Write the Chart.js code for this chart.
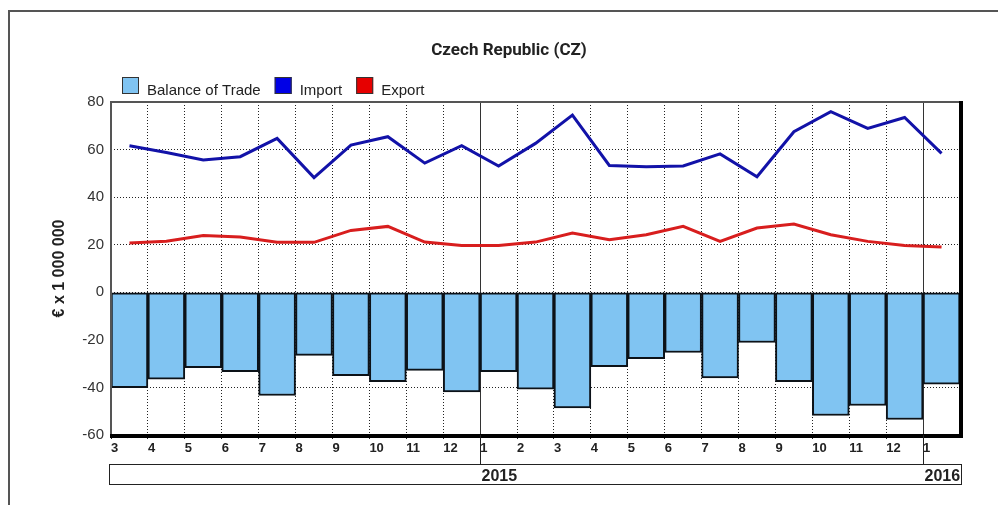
<!DOCTYPE html>
<html>
<head>
<meta charset="utf-8">
<script src="https://cdn.jsdelivr.net/npm/chart.js@4.4.0/dist/chart.umd.min.js"></script>
<style>
  html, body { margin: 0; padding: 0; background: #fff; }
</style>
</head>
<body>
<canvas id="myChart" width="998" height="505"></canvas>
<script>
// months Mar 2014 .. Jan 2016, one slot each on the x axis
var monthLabels = ['3', '4', '5', '6', '7', '8', '9', '10', '11', '12',
                   '1', '2', '3', '4', '5', '6', '7', '8', '9', '10', '11', '12',
                   '1'];
var yearLabels = ['2015', '2016'];
var yearStarts = [10, 22];

// EUR millions
var balance = [-40.1, -36.5, -31.7, -33.4, -43.4, -26.5, -35.1, -37.6, -32.8, -41.9,
               -33.4, -40.7, -48.6, -31.3, -27.9, -25.3, -36.0, -21.1, -37.6, -51.8, -47.6, -53.5,
               -38.6];
var imports = [61.6, 58.8, 55.6, 57.0, 64.7, 48.2, 61.9, 65.4, 54.3, 61.6,
               53.1, 62.6, 74.5, 53.3, 52.8, 53.1, 58.2, 48.6, 67.5, 75.9, 68.9, 73.5,
               58.4];
var exports = [20.7, 21.5, 23.9, 23.2, 21.0, 21.0, 26.0, 27.7, 21.1, 19.7,
               19.7, 21.1, 24.9, 22.1, 24.2, 27.7, 21.4, 27.0, 28.7, 24.2, 21.4, 19.7,
               19.0];

var yTicks = [-60, -40, -20, 0, 20, 40, 60, 80];

var chartTitle = 'Czech Republic (CZ)';
var legendItems = [
  { text: 'Balance of Trade', color: '#80c4f2' },
  { text: 'Import', color: '#0000e6' },
  { text: 'Export', color: '#e60000' }
];

// each month sits in the middle of its slot
function points(values) {
  return values.map(function(v, i) { return { x: i + 0.5, y: v }; });
}

var decorations = {
  id: 'decorations',
  afterDraw: function(chart) {
    var c = chart.ctx, a = chart.chartArea, xs = chart.scales.x;
    c.save();

    // outer frame
    c.strokeStyle = '#555';
    c.lineWidth = 2;
    c.beginPath();
    c.moveTo(9, 505); c.lineTo(9, 11); c.lineTo(998, 11);
    c.stroke();

    // title
    c.fillStyle = '#222';
    c.font = 'bold 17px Roboto';
    c.textAlign = 'center';
    c.textBaseline = 'alphabetic';
    c.fillText(chartTitle, 509, 55);

    // legend
    c.font = '15px "Liberation Sans"';
    c.textAlign = 'left';
    var lx = 122;
    legendItems.forEach(function(it) {
      c.fillStyle = it.color;
      c.fillRect(lx, 77, 17, 17);
      c.strokeStyle = '#333';
      c.lineWidth = 1;
      c.strokeRect(lx + 0.5, 77.5, 16, 16);
      c.fillStyle = '#222';
      c.fillText(it.text, lx + 25, 95);
      lx += 25 + c.measureText(it.text).width + 14;
    });

    // plot frame: light top/left, heavy right/bottom
    c.strokeStyle = '#555';
    c.lineWidth = 2;
    c.beginPath();
    c.moveTo(a.left, a.bottom); c.lineTo(a.left, a.top); c.lineTo(a.right, a.top);
    c.stroke();
    c.strokeStyle = '#000';
    c.lineWidth = 4;
    c.beginPath();
    c.moveTo(a.left - 1, a.bottom + 1); c.lineTo(a.right + 1, a.bottom + 1); c.lineTo(a.right + 1, a.top - 1);
    c.stroke();

    // year band
    var boxTop = a.bottom + 29, boxH = 20;
    c.strokeStyle = '#222';
    c.lineWidth = 1;
    c.strokeRect(a.left - 1.5, boxTop + 0.5, a.right - a.left + 3, boxH);
    c.font = 'bold 16px "Liberation Sans"';
    c.fillStyle = '#222';
    yearStarts.forEach(function(s, i) {
      var px = Math.round(xs.getPixelForValue(s)) + 0.5;
      c.beginPath();
      c.moveTo(px, a.bottom); c.lineTo(px, boxTop);
      c.stroke();
      c.fillText(yearLabels[i], px + 1, boxTop + 17);
    });
    c.restore();
  }
};

var ctx = document.getElementById('myChart').getContext('2d');

var myChart = new Chart(ctx, {
  type: 'bar',
  data: {
    datasets: [
      {
        type: 'line',
        label: 'Import',
        data: points(imports),
        borderColor: '#1212a8',
        borderWidth: 3,
        pointRadius: 0,
        tension: 0
      }, {
        type: 'line',
        label: 'Export',
        data: points(exports),
        borderColor: '#d81e1e',
        borderWidth: 3,
        pointRadius: 0,
        tension: 0
      }, {
        label: 'Balance of Trade',
        data: points(balance),
        backgroundColor: '#80c4f2',
        borderColor: '#0c1218',
        borderWidth: 2,
        borderSkipped: false,
        barPercentage: 1,
        categoryPercentage: 1
      }
    ]
  },
  options: {
    responsive: false,
    animation: false,
    layout: { padding: { left: 12, right: 38, top: 102, bottom: 0 } },
    plugins: {
      legend: { display: false },
      title: { display: false },
      tooltip: { enabled: false }
    },
    scales: {
      x: {
        type: 'linear',
        min: 0,
        max: monthLabels.length,
        offset: false,
        afterFit: function(scale) { scale.height = 70; },
        afterBuildTicks: function(scale) {
          scale.ticks = monthLabels.map(function(m, i) { return { value: i }; });
        },
        ticks: {
          align: 'start',
          padding: 2,
          maxRotation: 0,
          autoSkip: false,
          color: '#222',
          font: { family: 'Liberation Sans', size: 13, weight: 'bold' },
          callback: function(v) { return monthLabels[v] || ''; }
        },
        grid: {
          offset: false,
          color: function(c) { return yearStarts.indexOf(c.tick && c.tick.value) >= 0 ? '#333' : '#222'; },
          lineWidth: 1,
          tickLength: 4,
          tickColor: '#222'
        },
        border: {
          display: false,
          dash: function(c) { return yearStarts.indexOf(c.tick && c.tick.value) >= 0 ? [] : [1, 2]; }
        }
      },
      y: {
        min: yTicks[0],
        max: yTicks[yTicks.length - 1],
        afterFit: function(scale) { scale.width = 99; },
        afterBuildTicks: function(scale) {
          scale.ticks = yTicks.map(function(v) { return { value: v }; });
        },
        ticks: {
          padding: 7,
          color: '#333',
          font: { family: 'Liberation Sans', size: 15 }
        },
        grid: {
          color: '#222',
          lineWidth: 1,
          drawTicks: false
        },
        border: { display: false, dash: [1, 2] },
        title: {
          display: true,
          text: '€ x 1 000 000',
          color: '#222',
          padding: { top: 38, bottom: 0 },
          font: { family: 'Liberation Sans', size: 16, weight: 'bold' }
        }
      }
    }
  },
  plugins: [decorations]
});
</script>
</body>
</html>
